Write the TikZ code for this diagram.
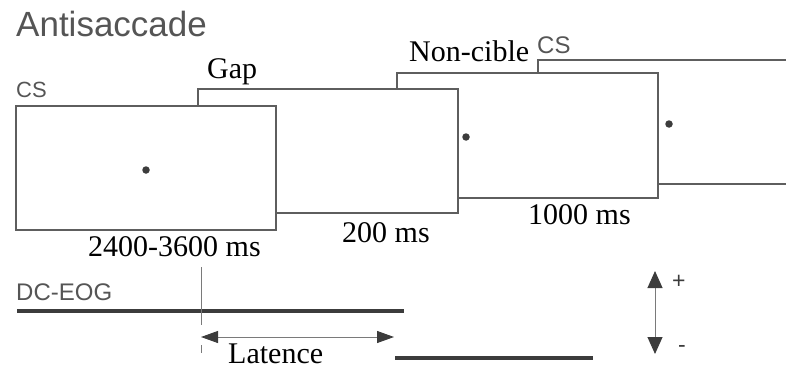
\documentclass[tikz,border=0pt]{standalone}
\usepackage{fontspec}
\setmainfont{Liberation Serif}
\newfontfamily\sansfont{Liberation Sans}
\usepackage{xcolor}
\usetikzlibrary{arrows.meta,positioning}

\definecolor{framegray}{HTML}{5E5E5E}
\definecolor{textgray}{HTML}{555555}
\definecolor{eoggray}{HTML}{3C3C3C}
\definecolor{thingray}{HTML}{7A7A7A}

\begin{document}
\begin{tikzpicture}[x=1pt,y=-1pt,
	screen/.style={draw=framegray, line width=2pt, fill=white},
	fixdot/.style={circle, fill=eoggray, inner sep=0pt, minimum size=7.5pt},
	serlabel/.style={anchor=base west, inner sep=0pt, font=\fontsize{30}{30}\selectfont},
	sanslabel/.style={anchor=base west, inner sep=0pt, text=textgray, font=\sansfont\fontsize{24}{24}\selectfont},
	eog/.style={draw=eoggray, line width=4pt}]
	\useasboundingbox (0,0) rectangle (786,369);
	
	% screens, back to front
	\draw [screen] (800,184) -- (538,184) -- (538,60) -- (800,60);
	\draw [screen] (397,73) rectangle (658,198);
	\draw [screen] (198,89) rectangle (458,213);
	\draw [screen] (16,106) rectangle (276,230);
	
	\node [fixdot] (d1) at (146,170) {};
	\node [fixdot] (d2) at (466,137) {};
	\node [fixdot] (d3) at (669,124) {};
	
	% labels
	\node [anchor=base west, inner sep=0pt, text=textgray, font=\sansfont\fontsize{35}{35}\selectfont] (title) at (16,37) {Antisaccade};
	\node [sanslabel, font=\sansfont\fontsize{22}{22}\selectfont] (cs1) at (16,97) {CS};
	\node [serlabel] (gap) at (207,78) {Gap};
	\node [serlabel] (nc) at (409,62) {Non-cible};
	\node [sanslabel] (cs2) at (537,53) {CS};
	
	\node [serlabel] (t1) at (88,256) {2400-3600 ms};
	\node [serlabel] (t2) at (342,242) {200 ms};
	\node [serlabel] (t3) at (528,224) {1000 ms};
	
	% eye trace
	\node [sanslabel] (dc) at (16,300) {DC-EOG};
	\coordinate (e1) at (17,311);
	\coordinate (e2) at (404,311);
	\coordinate (e3) at (395,358);
	\coordinate (e4) at (593,358);
	\draw [eog] (e1) -- (e2);
	\draw [eog] (e3) -- (e4);
	
	\coordinate (on) at (201,267);
	\coordinate (lt1) at (201,337);
	\coordinate (lt2) at (394,337);
	\draw [thingray, line width=0.8pt] (on) -- (201,325);
	\draw [thingray, line width=0.8pt] (201,345) -- (201,353);
	\draw [thingray, line width=1pt, {Triangle[length=17pt,width=12pt,color=eoggray]}-{Triangle[length=17pt,width=12pt,color=eoggray]}] (lt1) -- (lt2);
	\node [serlabel] (lat) at (228,363) {Latence};
	
	% polarity
	\coordinate (p1) at (655,271);
	\coordinate (p2) at (655,354);
	\draw [thingray, line width=1pt, {Triangle[length=17pt,width=15pt,color=eoggray]}-{Triangle[length=17pt,width=15pt,color=eoggray]}] (p1) -- (p2);
	\node [sanslabel, text=eoggray, font=\sansfont\fontsize{23}{23}\selectfont] (plus) at (672,288) {+};
	\node [sanslabel, text=eoggray, font=\sansfont\fontsize{23}{23}\selectfont] (minus) at (678,352) {-};
	
\end{tikzpicture}
\end{document}
